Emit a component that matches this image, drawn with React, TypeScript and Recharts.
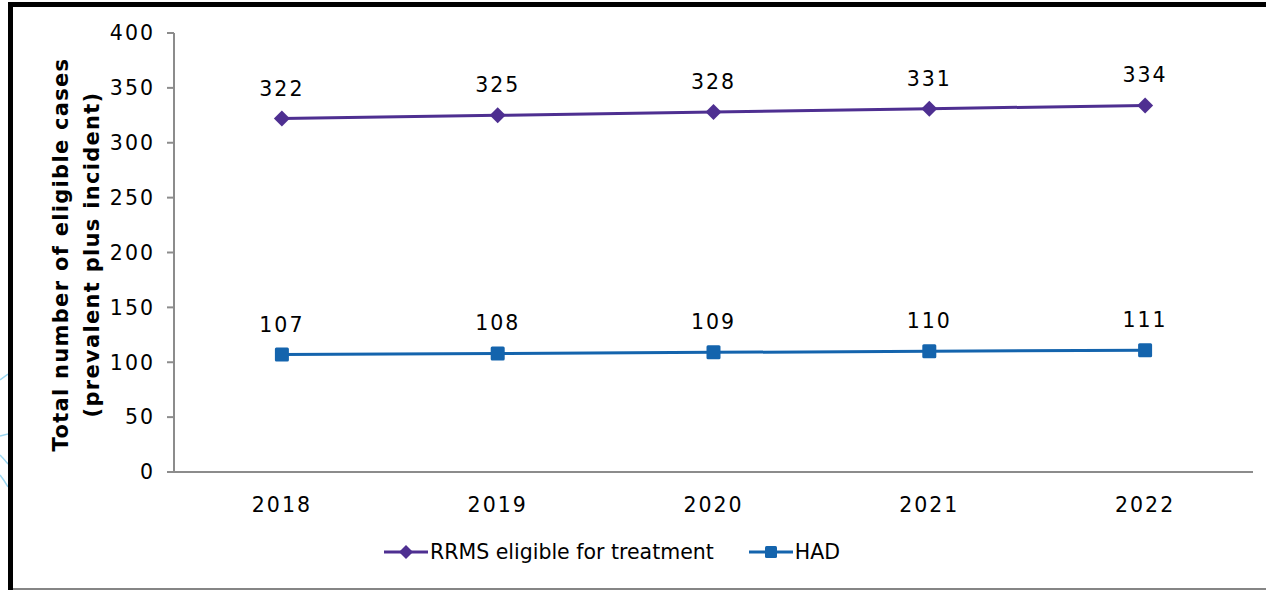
import React from 'react'
import { LineChart, Line, XAxis, YAxis, LabelList, Label } from 'recharts'

const years = [2018, 2019, 2020, 2021, 2022]
const rrms = [322, 325, 328, 331, 334]
const had = [107, 108, 109, 110, 111]
const yTicks = [0, 50, 100, 150, 200, 250, 300, 350, 400]

const series = [
  { key: 'rrms', name: 'RRMS eligible for treatment', color: '#4E2F91', shape: 'diamond' },
  { key: 'had', name: 'HAD', color: '#1464AD', shape: 'square' },
]

const data = years.map((year, i) => ({ year, rrms: rrms[i], had: had[i] }))
// category boundaries for the x-axis tick marks
const bounds = [...years.map((y) => y - 0.5), years[years.length - 1] + 0.5]

const FONT = '"DejaVu Sans", Verdana, sans-serif'
const AXIS = '#8C8C8C'
const numText = { fontFamily: FONT, fontSize: 20.5, fill: '#000', letterSpacing: 2 }

const Diamond = (props: any) => {
  const { cx, cy, fill, r = 8 } = props
  if (cx == null || cy == null) return null
  return <path d={`M${cx},${cy - r}L${cx + r},${cy}L${cx},${cy + r}L${cx - r},${cy}Z`} fill={fill} />
}

const Square = (props: any) => {
  const { cx, cy, fill, r = 7 } = props
  if (cx == null || cy == null) return null
  return <rect x={cx - r} y={cy - r} width={r * 2} height={r * 2} rx={1.5} fill={fill} />
}

const YTitle = (props: any) => {
  const { viewBox } = props
  const cy = viewBox.y + viewBox.height / 2
  const lines = ['Total number of eligible cases', '(prevalent plus incident)']
  return (
    <g>
      {lines.map((t, i) => (
        <text
          key={i}
          x={0}
          y={0}
          transform={`translate(${61 + i * 31}, ${cy + 2}) rotate(-90)`}
          textAnchor="middle"
          dominantBaseline="central"
          fontFamily={FONT}
          fontWeight="bold"
          fontSize={21}
          letterSpacing={1.3}
          fill="#000"
        >
          {t}
        </text>
      ))}
    </g>
  )
}

const LegendRow = () => (
  <div
    style={{
      position: 'absolute',
      top: 538,
      left: 384,
      display: 'flex',
      alignItems: 'center',
      fontFamily: FONT,
      fontSize: 20.5,
      color: '#000',
      whiteSpace: 'nowrap',
    }}
  >
    {series.map((s, i) => (
      <div key={s.key} style={{ display: 'flex', alignItems: 'center', marginRight: i === 0 ? 35 : 0 }}>
        <svg width={44} height={28}>
          <line x1={0} y1={14} x2={44} y2={14} stroke={s.color} strokeWidth={3} />
          {s.shape === 'diamond' ? <Diamond cx={22} cy={14} fill={s.color} r={7} /> : <Square cx={22} cy={14} fill={s.color} r={6} />}
        </svg>
        <span style={{ marginLeft: 2 }}>{s.name}</span>
      </div>
    ))}
  </div>
)

const App = () => {
  return (
    <div style={{ position: 'absolute', left: 0, top: 0, width: 1266, height: 590, background: '#fff', overflow: 'hidden' }}>
      {/* frame */}
      <div style={{ position: 'absolute', left: 8, top: 2, right: 0, height: 5, background: '#000' }} />
      <div style={{ position: 'absolute', left: 8, top: 2, width: 5, bottom: 0, background: '#000' }} />
      <div style={{ position: 'absolute', left: 13, bottom: 0, right: 0, height: 2, background: '#858585' }} />
      <svg style={{ position: 'absolute', left: 0, top: 360 }} width={8} height={140}>
        <path d="M0,20 Q4,17 8,14" stroke="#9BD6F0" strokeWidth={1.5} fill="none" />
        <path d="M0,76 Q4,75 8,74" stroke="#9BD6F0" strokeWidth={1.5} fill="none" />
        <path d="M0,95 Q4,99 8,104" stroke="#9BD6F0" strokeWidth={1.5} fill="none" />
        <path d="M0,115 Q4,120 8,127" stroke="#9BD6F0" strokeWidth={1.5} fill="none" />
      </svg>

      <div style={{ position: 'absolute', left: 0, top: 0 }}>
        <LineChart width={1266} height={590} data={data} margin={{ top: 33, right: 13, bottom: 78, left: 114 }}>
          <XAxis
            dataKey="year"
            type="number"
            domain={[bounds[0], bounds[bounds.length - 1]]}
            ticks={years}
            tickLine={false}
            axisLine={{ stroke: AXIS, strokeWidth: 2 }}
            tickSize={0}
            tickMargin={25}
            height={40}
            tick={numText}
          />
          <XAxis
            xAxisId="bounds"
            dataKey="year"
            type="number"
            domain={[bounds[0], bounds[bounds.length - 1]]}
            ticks={bounds}
            tickSize={9}
            tickLine={{ stroke: AXIS, strokeWidth: 2 }}
            axisLine={false}
            tick={false}
            height={0}
          />
          <YAxis
            domain={[0, 400]}
            ticks={yTicks}
            width={60}
            tickSize={7}
            tickMargin={12}
            axisLine={{ stroke: AXIS, strokeWidth: 2 }}
            tickLine={{ stroke: AXIS, strokeWidth: 2 }}
            tick={numText}
          >
            <Label content={<YTitle />} />
          </YAxis>
          {series.map((s) => (
            <Line
              key={s.key}
              dataKey={s.key}
              name={s.name}
              stroke={s.color}
              strokeWidth={3}
              isAnimationActive={false}
              dot={s.shape === 'diamond' ? <Diamond fill={s.color} r={8} /> : <Square fill={s.color} r={7} />}
              activeDot={false}
            >
              <LabelList dataKey={s.key} position="top" offset={23} {...numText} />
            </Line>
          ))}
        </LineChart>
      </div>
      <LegendRow />
    </div>
  )
}

export default App
